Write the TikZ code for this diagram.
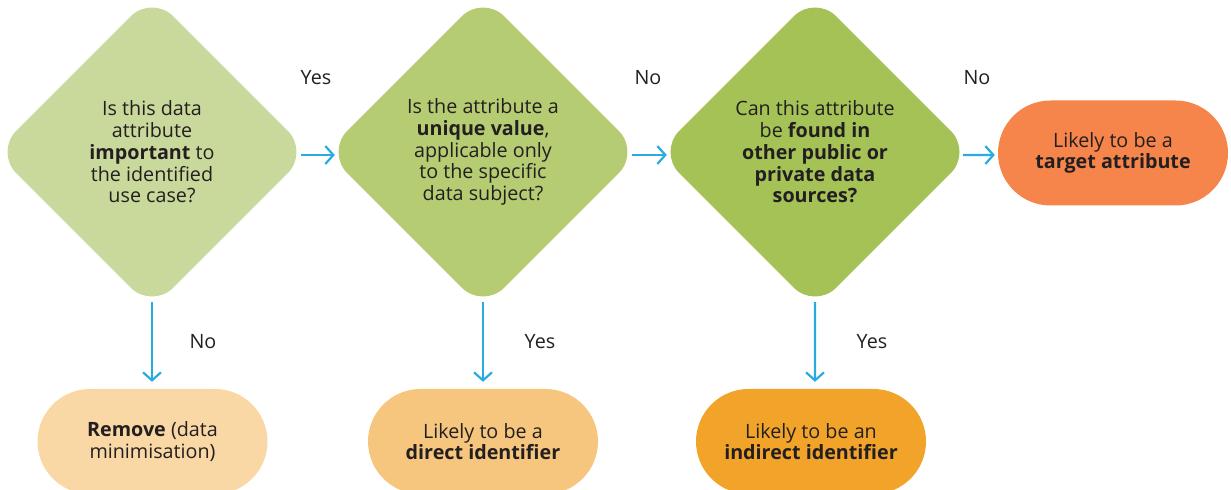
\documentclass[tikz,border=0pt]{standalone}
\usepackage{fontspec}
\setmainfont{Open Sans}
\usetikzlibrary{shapes.geometric,arrows.meta}
\definecolor{dgA}{HTML}{C9D89B}
\definecolor{dgB}{HTML}{B6CC73}
\definecolor{dgC}{HTML}{A5C257}
\definecolor{pTarget}{HTML}{F5854A}
\definecolor{pRemove}{HTML}{FAD8A5}
\definecolor{pDirect}{HTML}{F7C67E}
\definecolor{pIndirect}{HTML}{F2A42A}
\definecolor{arrcol}{HTML}{29ABE2}
\definecolor{txt}{HTML}{231F20}
\tikzset{
  txtfont/.style={font=\fontsize{19.8}{21.8}\selectfont, text=txt},
  decision/.style={diamond, aspect=1, inner sep=0pt, minimum width=314bp, minimum height=314bp,
     rounded corners=30bp, align=center, txtfont},
  pill/.style={rectangle, inner sep=0pt, minimum width=230bp, minimum height=105bp,
     rounded corners=52.5bp, align=center, txtfont},
  arr/.style={draw=arrcol, line width=2.2bp, -{Straight Barb[length=8bp,width=18bp,line width=2.2bp]}},
  lbl/.style={txtfont, inner sep=0pt},
}
\begin{document}
\begin{tikzpicture}[x=1bp,y=-1bp]
\useasboundingbox (0,0) rectangle (1231,490);
\node[decision, fill=dgA] (d1) at (152,152) {Is this data\\attribute\\\textbf{important} to\\the identified\\use case?};
\node[decision, fill=dgB] (d2) at (483,152) {Is the attribute a\\\textbf{unique value},\\applicable only\\to the specific\\data subject?};
\node[decision, fill=dgC] (d3) at (815,152) {Can this attribute\\be \textbf{found in}\\\textbf{other public or}\\\textbf{private data}\\\textbf{sources?}};
\node[pill, fill=pTarget] (target) at (1113,153) {Likely to be a\\\textbf{target attribute}};
\node[pill, fill=pRemove] (remove) at (152.5,441.5) {\textbf{Remove} (data\\minimisation)};
\node[pill, fill=pDirect] (direct) at (483,441.5) {Likely to be a\\\textbf{direct identifier}};
\node[pill, fill=pIndirect] (indirect) at (811,441.5) {Likely to be an\\\textbf{indirect identifier}};
\draw[arr] ([xshift=-8bp,yshift=-3bp]d1.east) -- ([xshift=9bp,yshift=-3bp]d2.west);
\draw[arr] ([xshift=-8bp,yshift=-3bp]d2.east) -- ([xshift=9bp,yshift=-3bp]d3.west);
\draw[arr] ([xshift=-9bp,yshift=-3bp]d3.east) -- ([xshift=-3bp,yshift=-2bp]target.west);
\draw[arr] ([yshift=7bp]d1.south) -- ([xshift=-0.5bp,yshift=7bp]remove.north);
\draw[arr] ([yshift=7bp]d2.south) -- ([yshift=7bp]direct.north);
\draw[arr] ([yshift=7bp]d3.south) -- ([xshift=4bp,yshift=7bp]indirect.north);
\node[lbl] (l1) at (316,78) {Yes};
\node[lbl] (l2) at (648,78) {No};
\node[lbl] (l3) at (977,78) {No};
\node[lbl] (l4) at (203,342) {No};
\node[lbl] (l5) at (540,342) {Yes};
\node[lbl] (l6) at (872,342) {Yes};
\end{tikzpicture}
\end{document}
